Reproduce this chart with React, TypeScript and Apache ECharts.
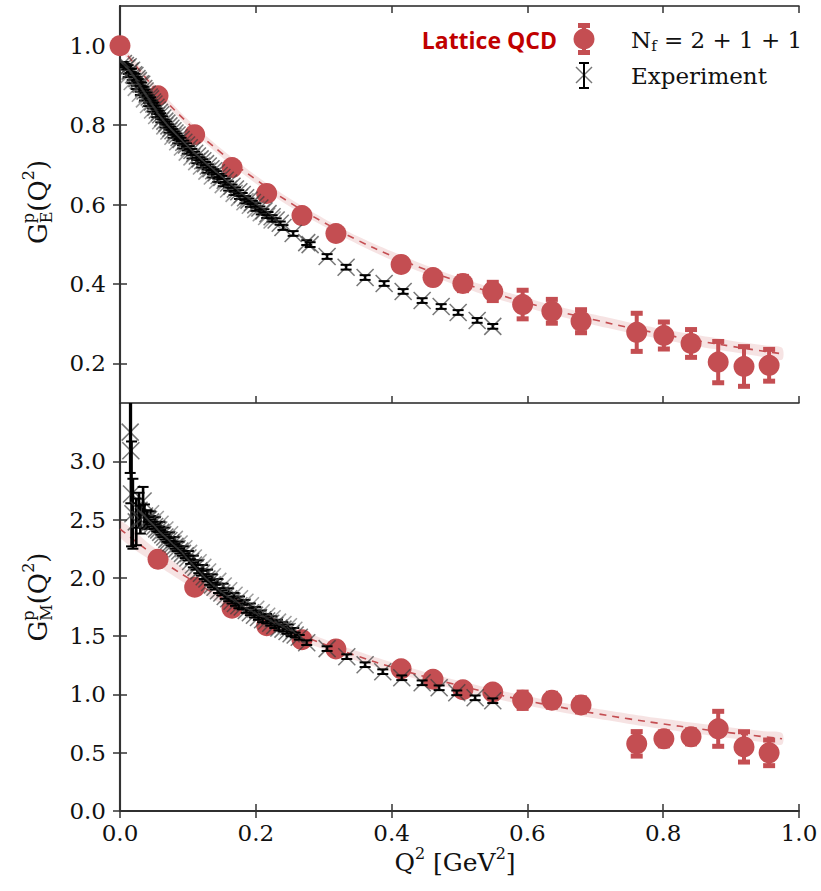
import React, { useEffect, useRef } from "react";
import * as echarts from "echarts";

const RED = "#C44E52";
const SERIF = "DejaVu Serif";

// ---------- Lattice QCD data ----------
const latticeGEx = [0, 0.056, 0.110, 0.165, 0.216, 0.268, 0.318, 0.414, 0.461, 0.505, 0.549, 0.593, 0.636, 0.679, 0.761, 0.801, 0.841, 0.881, 0.919, 0.956];
const latticeGE = [1.0, 0.874, 0.776, 0.693, 0.628, 0.572, 0.527, 0.449, 0.416, 0.401, 0.381, 0.348, 0.331, 0.306, 0.278, 0.270, 0.250, 0.203, 0.192, 0.195];
const latticeGEerr = [0, 0.006, 0.008, 0.009, 0.010, 0.011, 0.012, 0.014, 0.015, 0.018, 0.023, 0.036, 0.030, 0.029, 0.048, 0.034, 0.035, 0.052, 0.050, 0.040];

const latticeGMx = [0.056, 0.110, 0.165, 0.216, 0.268, 0.318, 0.414, 0.461, 0.505, 0.549, 0.593, 0.636, 0.679, 0.761, 0.801, 0.841, 0.881, 0.919, 0.956];
const latticeGM = [2.16, 1.92, 1.74, 1.59, 1.47, 1.39, 1.22, 1.13, 1.04, 1.02, 0.95, 0.95, 0.91, 0.576, 0.619, 0.636, 0.705, 0.550, 0.499];
const latticeGMerr = [0.03, 0.03, 0.03, 0.03, 0.03, 0.03, 0.04, 0.04, 0.04, 0.05, 0.07, 0.06, 0.06, 0.105, 0.06, 0.06, 0.15, 0.13, 0.11];

// ---------- Fit curves ----------
const fitX = [0, 0.05, 0.1, 0.15, 0.2, 0.25, 0.3, 0.35, 0.4, 0.45, 0.5, 0.55, 0.6, 0.65, 0.7, 0.75, 0.8, 0.85, 0.9, 0.95, 0.975];
const fitGE = [1.0, 0.895, 0.805, 0.729, 0.663, 0.605, 0.555, 0.510, 0.471, 0.436, 0.405, 0.377, 0.352, 0.329, 0.309, 0.290, 0.273, 0.257, 0.243, 0.230, 0.224];
const fitGEband = [0.008, 0.009, 0.009, 0.010, 0.010, 0.010, 0.010, 0.010, 0.011, 0.011, 0.011, 0.012, 0.012, 0.012, 0.013, 0.013, 0.013, 0.014, 0.014, 0.015, 0.015];
const fitGM = [2.42, 2.195, 2.0, 1.83, 1.681, 1.549, 1.432, 1.328, 1.235, 1.151, 1.076, 1.007, 0.945, 0.889, 0.837, 0.79, 0.747, 0.707, 0.67, 0.636, 0.62];
const fitGMband = [0.07, 0.065, 0.06, 0.055, 0.05, 0.047, 0.044, 0.042, 0.04, 0.04, 0.04, 0.04, 0.04, 0.041, 0.042, 0.043, 0.044, 0.045, 0.046, 0.048, 0.049];

// ---------- Experimental data [Q2, value, error] ----------
const expGE: number[][] = [
  [0.005, 0.955, 0.004], [0.008, 0.950, 0.004], [0.010, 0.944, 0.004], [0.012, 0.947, 0.004], [0.015, 0.936, 0.004],
  [0.017, 0.938, 0.004], [0.020, 0.927, 0.004], [0.022, 0.925, 0.004], [0.025, 0.917, 0.004], [0.027, 0.912, 0.004],
  [0.030, 0.904, 0.004], [0.032, 0.903, 0.004], [0.035, 0.892, 0.004], [0.037, 0.886, 0.004], [0.040, 0.878, 0.004],
  [0.043, 0.871, 0.004], [0.045, 0.866, 0.004], [0.048, 0.858, 0.004], [0.050, 0.853, 0.004], [0.053, 0.845, 0.004],
  [0.055, 0.838, 0.004], [0.058, 0.832, 0.004], [0.060, 0.826, 0.004], [0.063, 0.818, 0.004], [0.066, 0.810, 0.004],
  [0.069, 0.805, 0.004], [0.072, 0.798, 0.004], [0.075, 0.792, 0.004], [0.078, 0.786, 0.004], [0.081, 0.780, 0.004],
  [0.084, 0.775, 0.004], [0.087, 0.769, 0.004], [0.090, 0.764, 0.004], [0.094, 0.757, 0.004], [0.098, 0.750, 0.004],
  [0.102, 0.743, 0.004], [0.106, 0.736, 0.004], [0.110, 0.729, 0.004], [0.114, 0.722, 0.004], [0.118, 0.715, 0.004],
  [0.122, 0.710, 0.004], [0.126, 0.703, 0.004], [0.130, 0.697, 0.004], [0.134, 0.690, 0.004], [0.138, 0.685, 0.004],
  [0.142, 0.680, 0.004], [0.146, 0.673, 0.004], [0.150, 0.668, 0.004], [0.155, 0.661, 0.004], [0.160, 0.654, 0.004],
  [0.165, 0.646, 0.004], [0.170, 0.639, 0.004], [0.175, 0.632, 0.004], [0.180, 0.625, 0.004], [0.185, 0.617, 0.004],
  [0.190, 0.611, 0.004], [0.195, 0.605, 0.004], [0.200, 0.599, 0.004], [0.206, 0.591, 0.004], [0.212, 0.584, 0.004],
  [0.218, 0.577, 0.004], [0.224, 0.569, 0.004], [0.230, 0.561, 0.004], [0.236, 0.553, 0.004],
  [0.240, 0.542, 0.006], [0.255, 0.527, 0.006], [0.275, 0.504, 0.006], [0.280, 0.499, 0.006], [0.305, 0.469, 0.006],
  [0.333, 0.442, 0.006], [0.361, 0.416, 0.006], [0.389, 0.401, 0.006], [0.417, 0.381, 0.006], [0.445, 0.358, 0.006],
  [0.473, 0.343, 0.006], [0.498, 0.328, 0.006], [0.526, 0.308, 0.006], [0.549, 0.293, 0.006],
];
const expGE2: number[][] = [
  [0.012, 0.925, 0.004], [0.018, 0.910, 0.004], [0.024, 0.895, 0.004], [0.030, 0.880, 0.004], [0.036, 0.866, 0.004],
  [0.042, 0.852, 0.004], [0.048, 0.838, 0.004], [0.054, 0.824, 0.004], [0.060, 0.811, 0.004], [0.066, 0.798, 0.004],
  [0.072, 0.785, 0.004], [0.078, 0.772, 0.004], [0.085, 0.758, 0.004], [0.092, 0.745, 0.004], [0.099, 0.732, 0.004],
  [0.106, 0.720, 0.004], [0.113, 0.708, 0.004], [0.120, 0.697, 0.004], [0.128, 0.684, 0.004], [0.136, 0.672, 0.004],
  [0.144, 0.661, 0.004], [0.152, 0.650, 0.004], [0.160, 0.639, 0.004], [0.168, 0.628, 0.004], [0.176, 0.618, 0.004],
  [0.184, 0.607, 0.004], [0.192, 0.598, 0.004], [0.200, 0.588, 0.004], [0.208, 0.579, 0.004], [0.216, 0.570, 0.004],
  [0.224, 0.561, 0.004],
];
const expGM: number[][] = [
  [0.015, 3.25, 0.35], [0.016, 3.09, 0.45], [0.017, 2.72, 0.45], [0.034, 2.66, 0.12], [0.019, 2.55, 0.30],
  [0.024, 2.48, 0.20], [0.028, 2.58, 0.15], [0.030, 2.50, 0.12], [0.036, 2.53, 0.10], [0.040, 2.50, 0.08],
  [0.042, 2.50, 0.02], [0.045, 2.48, 0.02], [0.048, 2.46, 0.02], [0.051, 2.44, 0.02], [0.054, 2.42, 0.02],
  [0.057, 2.41, 0.02], [0.060, 2.39, 0.02], [0.063, 2.37, 0.02], [0.066, 2.35, 0.02], [0.069, 2.33, 0.02],
  [0.072, 2.32, 0.02], [0.075, 2.30, 0.02], [0.078, 2.29, 0.02], [0.081, 2.27, 0.02], [0.084, 2.25, 0.02],
  [0.088, 2.23, 0.02], [0.092, 2.21, 0.02], [0.096, 2.19, 0.02], [0.100, 2.17, 0.02], [0.104, 2.14, 0.02],
  [0.108, 2.11, 0.02], [0.112, 2.09, 0.02], [0.116, 2.06, 0.02], [0.120, 2.04, 0.02], [0.124, 2.01, 0.02],
  [0.128, 1.99, 0.02], [0.132, 1.96, 0.02], [0.136, 1.94, 0.02], [0.140, 1.92, 0.02], [0.145, 1.89, 0.02],
  [0.150, 1.87, 0.02], [0.155, 1.84, 0.02], [0.160, 1.82, 0.02], [0.165, 1.80, 0.02], [0.170, 1.78, 0.02],
  [0.175, 1.76, 0.02], [0.180, 1.75, 0.02], [0.186, 1.72, 0.02], [0.192, 1.70, 0.02], [0.198, 1.68, 0.02],
  [0.204, 1.66, 0.02], [0.210, 1.64, 0.02], [0.216, 1.63, 0.02], [0.222, 1.61, 0.02], [0.228, 1.59, 0.02],
  [0.234, 1.57, 0.02], [0.240, 1.56, 0.02], [0.246, 1.54, 0.02], [0.252, 1.52, 0.02], [0.258, 1.51, 0.02],
  [0.264, 1.49, 0.02],
  [0.275, 1.444, 0.02], [0.305, 1.393, 0.02], [0.334, 1.324, 0.02], [0.361, 1.255, 0.02], [0.387, 1.195, 0.02],
  [0.415, 1.143, 0.02], [0.445, 1.100, 0.02], [0.470, 1.057, 0.02], [0.496, 1.014, 0.02], [0.523, 0.971, 0.02],
  [0.549, 0.946, 0.02],
];
const expGM2: number[][] = [
  [0.045, 2.55, 0.02], [0.052, 2.50, 0.02], [0.059, 2.46, 0.02], [0.066, 2.41, 0.02], [0.073, 2.37, 0.02],
  [0.080, 2.33, 0.02], [0.087, 2.29, 0.02], [0.094, 2.25, 0.02], [0.101, 2.21, 0.02], [0.108, 2.17, 0.02],
  [0.115, 2.13, 0.02], [0.122, 2.09, 0.02], [0.129, 2.05, 0.02], [0.136, 2.01, 0.02], [0.144, 1.97, 0.02],
  [0.152, 1.93, 0.02], [0.160, 1.89, 0.02], [0.168, 1.85, 0.02], [0.176, 1.82, 0.02], [0.184, 1.79, 0.02],
  [0.192, 1.76, 0.02], [0.200, 1.73, 0.02], [0.208, 1.70, 0.02], [0.216, 1.67, 0.02], [0.224, 1.65, 0.02],
  [0.232, 1.62, 0.02], [0.240, 1.60, 0.02], [0.248, 1.58, 0.02], [0.256, 1.55, 0.02],
];

// ---------- tick labels ----------
const xTicks = [0, 0.2, 0.4, 0.6, 0.8, 1.0];
const geTicks = [0.2, 0.4, 0.6, 0.8, 1.0];
const gmTicks = [0, 0.5, 1.0, 1.5, 2.0, 2.5, 3.0];

// ---------- helpers ----------
let measureCtx: CanvasRenderingContext2D | null = null;
function measure(text: string, size: number, family: string, weight = "normal") {
  if (!measureCtx) measureCtx = document.createElement("canvas").getContext("2d");
  if (!measureCtx) return text.length * size * 0.6;
  measureCtx.font = `${weight} ${size}px "${family}"`;
  return measureCtx.measureText(text).width;
}

type Seg = { t: string; s: number; dy?: number; stack?: boolean };
function layoutSegs(segs: Seg[], family: string, color: string, align: "left" | "center") {
  const items: any[] = [];
  let x = 0;
  let i = 0;
  while (i < segs.length) {
    const g = segs[i];
    let adv = measure(g.t, g.s, family);
    items.push({ g, x });
    if (i + 1 < segs.length && segs[i + 1].stack) {
      const n = segs[i + 1];
      items.push({ g: n, x });
      adv = Math.max(adv, measure(n.t, n.s, family));
      i += 2;
    } else {
      i += 1;
    }
    x += adv;
  }
  const off = align === "center" ? -x / 2 : 0;
  return items.map(({ g, x: px }) => ({
    type: "text",
    x: px + off,
    y: g.dy || 0,
    style: {
      text: g.t,
      fontSize: g.s,
      fontFamily: family,
      fill: color,
      textAlign: "left",
      textVerticalAlign: "middle",
      verticalAlign: "middle",
    },
  }));
}

function latticeErr(xs: number[], ys: number[], es: number[], ai: number) {
  return {
    type: "custom",
    xAxisIndex: ai,
    yAxisIndex: ai,
    clip: true,
    z: 3,
    encode: { x: 0, y: 1 },
    data: xs.map((x, i) => [x, ys[i], es[i]]),
    renderItem: (_p: any, api: any) => {
      const x = api.value(0), y = api.value(1), e = api.value(2);
      const top = api.coord([x, y + e]);
      const bot = api.coord([x, y - e]);
      return {
        type: "group",
        children: [
          { type: "line", shape: { x1: top[0], y1: top[1], x2: bot[0], y2: bot[1] }, style: { stroke: RED, lineWidth: 4 } },
          { type: "rect", shape: { x: top[0] - 6, y: top[1] - 2.5, width: 12, height: 5 }, style: { fill: RED } },
          { type: "rect", shape: { x: bot[0] - 6, y: bot[1] - 2.5, width: 12, height: 5 }, style: { fill: RED } },
        ],
      };
    },
  };
}

function expSeries(data: number[][], ai: number, xColor: string) {
  return {
    type: "custom",
    xAxisIndex: ai,
    yAxisIndex: ai,
    clip: true,
    z: 5,
    encode: { x: 0, y: 1 },
    data,
    renderItem: (_p: any, api: any) => {
      const x = api.value(0), y = api.value(1), e = api.value(2);
      const c = api.coord([x, y]);
      const top = api.coord([x, y + e]);
      const bot = api.coord([x, y - e]);
      const h = 8.5;
      const lw = e > 0.05 ? 2.6 : 2;
      return {
        type: "group",
        children: [
          { type: "line", shape: { x1: c[0] - h, y1: c[1] - h, x2: c[0] + h, y2: c[1] + h }, style: { stroke: xColor, lineWidth: 1.5 } },
          { type: "line", shape: { x1: c[0] - h, y1: c[1] + h, x2: c[0] + h, y2: c[1] - h }, style: { stroke: xColor, lineWidth: 1.5 } },
          { type: "line", shape: { x1: top[0], y1: top[1], x2: bot[0], y2: bot[1] }, style: { stroke: "#000", lineWidth: lw } },
          { type: "line", shape: { x1: top[0] - 5.5, y1: top[1], x2: top[0] + 5.5, y2: top[1] }, style: { stroke: "#000", lineWidth: 2 } },
          { type: "line", shape: { x1: bot[0] - 5.5, y1: bot[1], x2: bot[0] + 5.5, y2: bot[1] }, style: { stroke: "#000", lineWidth: 2 } },
        ],
      };
    },
  };
}

function bandSeries(vals: number[], band: number[], ai: number) {
  return {
    type: "custom",
    xAxisIndex: ai,
    yAxisIndex: ai,
    clip: true,
    z: 1,
    encode: { x: 0, y: 1 },
    data: [[fitX[0], vals[0]]],
    renderItem: (_p: any, api: any) => {
      const upper = fitX.map((x, i) => api.coord([x, vals[i] + band[i]]));
      const lower = fitX.map((x, i) => api.coord([x, vals[i] - band[i]])).reverse();
      return {
        type: "polygon",
        shape: { points: upper.concat(lower), smooth: 0.3 },
        style: { fill: "rgba(196,78,82,0.16)" },
      };
    },
  };
}

function fitLine(vals: number[], ai: number) {
  return {
    type: "line",
    xAxisIndex: ai,
    yAxisIndex: ai,
    z: 2,
    smooth: true,
    showSymbol: false,
    symbol: "none",
    data: fitX.map((x, i) => [x, vals[i]]),
    lineStyle: { color: RED, width: 1.6, type: [7, 6] },
  };
}

function latticeDots(xs: number[], ys: number[], ai: number) {
  return {
    type: "scatter",
    xAxisIndex: ai,
    yAxisIndex: ai,
    z: 4,
    clip: false,
    symbol: "circle",
    symbolSize: 21,
    itemStyle: { color: RED, opacity: 1 },
    data: xs.map((x, i) => [x, ys[i]]),
  };
}

const fmt = (v: number) => v.toFixed(1);
const labelStyle = { fontFamily: SERIF, fontSize: 23, color: "#111" };
const X_COLOR = "rgba(60,60,60,0.7)";

export default function App() {
  const ref = useRef<HTMLDivElement>(null);
  useEffect(() => {
    if (!ref.current) return;
    const chart = echarts.init(ref.current, undefined, { renderer: "svg" });
    const darkLine = { show: true, lineStyle: { color: "#222", width: 1.5 } };
    const grayLine = { show: true, lineStyle: { color: "#6a6a6a", width: 2.2 } };
    const tick = (vals: number[]) => ({ show: true, inside: true, length: 7, customValues: vals, lineStyle: { color: "#333", width: 1.5 } });
    const xAx = (grid: number, pos: "top" | "bottom", labels: boolean) => ({
      type: "value",
      gridIndex: grid,
      position: pos,
      min: 0,
      max: 1,
      interval: 0.2,
      axisLine: darkLine,
      axisTick: tick(xTicks),
      axisLabel: labels ? { show: true, customValues: xTicks, formatter: fmt, margin: 10, ...labelStyle } : { show: false },
      splitLine: { show: false },
    });
    const yAx = (grid: number, pos: "left" | "right", min: number, max: number, ticks: number[], labels: boolean) => ({
      type: "value",
      gridIndex: grid,
      position: pos,
      min,
      max,
      axisLine: pos === "left" ? grayLine : darkLine,
      axisTick: tick(ticks),
      axisLabel: labels ? { show: true, customValues: ticks, formatter: fmt, margin: 14, ...labelStyle } : { show: false },
      splitLine: { show: false },
    });

    const yTitle = (sub: string, cy: number) => ({
      type: "group",
      x: 38,
      y: cy,
      rotation: Math.PI / 2,
      children: layoutSegs(
        [
          { t: "G", s: 26 },
          { t: "p", s: 16, dy: -10 },
          { t: sub, s: 16, dy: 8, stack: true },
          { t: "(Q", s: 26 },
          { t: "2", s: 16, dy: -10 },
          { t: ")", s: 26 },
        ],
        SERIF,
        "#111",
        "center"
      ),
    });

    const option: any = {
      animation: false,
      backgroundColor: "#fff",
      grid: [
        { left: 120, top: 6, width: 679, height: 397, show: false },
        { left: 120, top: 403, width: 679, height: 408, show: false },
      ],
      xAxis: [xAx(0, "bottom", false), xAx(0, "top", false), xAx(1, "bottom", true), xAx(1, "top", false)],
      yAxis: [
        yAx(0, "left", 0.1, 1.1, geTicks, true),
        yAx(0, "right", 0.1, 1.1, geTicks, false),
        yAx(1, "left", 0, 3.5, gmTicks, true),
        yAx(1, "right", 0, 3.5, gmTicks, false),
      ],
      series: [
        bandSeries(fitGE, fitGEband, 0),
        fitLine(fitGE, 0),
        latticeErr(latticeGEx, latticeGE, latticeGEerr, 0),
        latticeDots(latticeGEx, latticeGE, 0),
        expSeries(expGE2, 0, "rgba(90,90,90,0.6)"),
        expSeries(expGE, 0, X_COLOR),
        bandSeries(fitGM, fitGMband, 2),
        fitLine(fitGM, 2),
        latticeErr(latticeGMx, latticeGM, latticeGMerr, 2),
        latticeDots(latticeGMx, latticeGM, 2),
        expSeries(expGM2, 2, "rgba(90,90,90,0.6)"),
        expSeries(expGM, 2, X_COLOR),
      ],
      graphic: [
        yTitle("E", 202),
        yTitle("M", 597),
        {
          type: "group",
          x: 455,
          y: 862,
          children: layoutSegs(
            [
              { t: "Q", s: 25 },
              { t: "2", s: 16, dy: -9 },
              { t: " [GeV", s: 25 },
              { t: "2", s: 16, dy: -9 },
              { t: "]", s: 25 },
            ],
            SERIF,
            "#111",
            "center"
          ),
        },
        // legend
        {
          type: "text",
          x: 557,
          y: 40,
          style: {
            text: "Lattice QCD",
            fontSize: 23,
            fontWeight: "bold",
            fontFamily: "Open Sans",
            fill: "#C00000",
            textAlign: "right",
            textVerticalAlign: "middle",
            verticalAlign: "middle",
          },
        },
        { type: "line", shape: { x1: 584, y1: 25, x2: 584, y2: 53 }, style: { stroke: RED, lineWidth: 4 } },
        { type: "rect", shape: { x: 578, y: 23, width: 12, height: 5 }, style: { fill: RED } },
        { type: "rect", shape: { x: 578, y: 50, width: 12, height: 5 }, style: { fill: RED } },
        { type: "circle", shape: { cx: 584, cy: 39, r: 10.5 }, style: { fill: RED } },
        {
          type: "group",
          x: 631,
          y: 40,
          children: layoutSegs(
            [
              { t: "N", s: 23 },
              { t: "f", s: 15, dy: 6 },
              { t: " = 2 + 1 + 1", s: 23 },
            ],
            SERIF,
            "#111",
            "left"
          ),
        },
        { type: "line", shape: { x1: 576, y1: 67, x2: 592, y2: 83 }, style: { stroke: X_COLOR, lineWidth: 1.5 } },
        { type: "line", shape: { x1: 576, y1: 83, x2: 592, y2: 67 }, style: { stroke: X_COLOR, lineWidth: 1.5 } },
        { type: "line", shape: { x1: 584, y1: 63, x2: 584, y2: 88 }, style: { stroke: "#000", lineWidth: 2 } },
        { type: "line", shape: { x1: 579, y1: 63, x2: 589, y2: 63 }, style: { stroke: "#000", lineWidth: 2 } },
        { type: "line", shape: { x1: 579, y1: 88, x2: 589, y2: 88 }, style: { stroke: "#000", lineWidth: 2 } },
        {
          type: "text",
          x: 631,
          y: 76,
          style: {
            text: "Experiment",
            fontSize: 23,
            fontFamily: SERIF,
            fill: "#111",
            textAlign: "left",
            textVerticalAlign: "middle",
            verticalAlign: "middle",
          },
        },
      ],
    };
    chart.setOption(option);
    return () => chart.dispose();
  }, []);
  return <div ref={ref} style={{ position: "fixed", left: 0, top: 0, width: 821, height: 891, background: "#fff" }} />;
}
